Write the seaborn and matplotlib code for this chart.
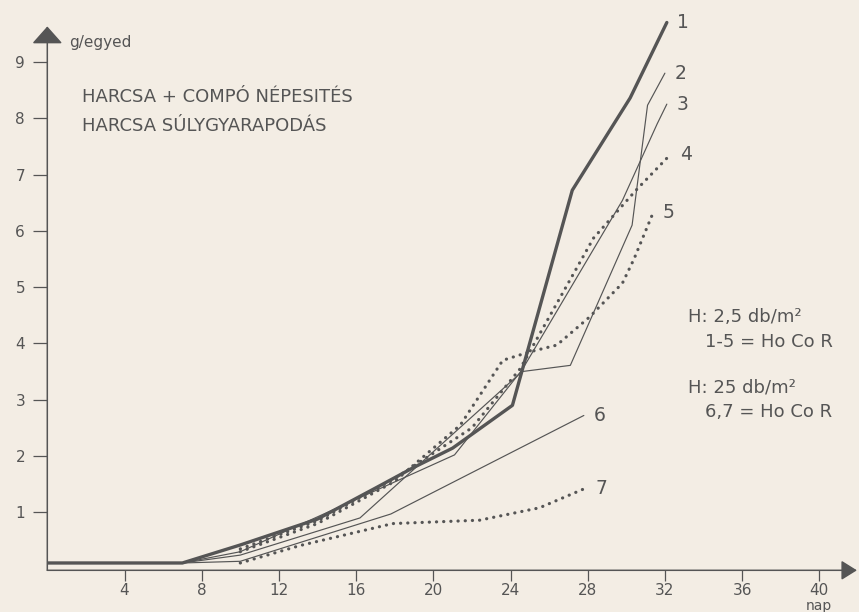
import matplotlib
matplotlib.use("Agg")
import matplotlib.pyplot as plt
import seaborn as sns
import pandas as pd

# ---- data ----
days_1 = [0, 7, 10, 14, 17, 19, 21, 24.1, 27.2, 30.2, 32.1]
vals_1 = [0.1, 0.1, 0.42, 0.88, 1.43, 1.8, 2.14, 2.9, 6.72, 8.36, 9.7]

days_2 = [0, 7, 10, 16.2, 24.6, 27.1, 30.3, 31.1, 32.0]
vals_2 = [0.1, 0.1, 0.24, 0.9, 3.5, 3.61, 6.1, 8.23, 8.8]

days_3 = [0, 7, 10, 21.1, 24.6, 29.8, 31.6, 32.1]
vals_3 = [0.1, 0.1, 0.3, 2.02, 3.53, 6.54, 7.9, 8.25]

days_4 = [10, 14, 18, 22, 24.5, 28.3, 30.5, 32.3]
vals_4 = [0.35, 0.85, 1.6, 2.5, 3.55, 5.87, 6.72, 7.36]

days_5 = [10, 14, 18, 21.4, 23.6, 25, 26.4, 28.1, 29.8, 30.4, 31.4]
vals_5 = [0.3, 0.8, 1.55, 2.55, 3.7, 3.85, 3.97, 4.47, 5.07, 5.5, 6.33]

days_6 = [0, 7, 10, 17.8, 27.8]
vals_6 = [0.1, 0.1, 0.13, 0.97, 2.72]

days_7 = [10, 13.1, 17.9, 22.4, 25.5, 27.9]
vals_7 = [0.1, 0.41, 0.8, 0.86, 1.08, 1.43]

series_names = ["1", "2", "3", "4", "5", "6", "7"]
x_ticks = [4, 8, 12, 16, 20, 24, 28, 32, 36, 40]
y_ticks = [1, 2, 3, 4, 5, 6, 7, 8, 9]
y_label = "g/egyed"
x_label = "nap"
title_lines = ["HARCSA + COMPÓ NÉPESITÉS", "HARCSA SÚLYGYARAPODÁS"]
note_lines = ["H: 2,5 db/m²", "1-5 = Ho Co R", "H: 25 db/m²", "6,7 = Ho Co R"]

all_days = [days_1, days_2, days_3, days_4, days_5, days_6, days_7]
all_vals = [vals_1, vals_2, vals_3, vals_4, vals_5, vals_6, vals_7]

# ---- styling ----
sns.set_theme(style="white")
plt.rcParams["font.family"] = ["DejaVu Sans"]
BG = "#f3ede4"
INK = "#555555"

fig = plt.figure(figsize=(8.59, 6.12), dpi=100)
fig.patch.set_facecolor(BG)

XMIN, XMAX = 0, 42
YMIN, YMAX = -0.03, 10.0
ax = fig.add_axes([47.3 / 859, (612 - 570.3) / 612, 810.6 / 859, (570.3 - 5.6) / 612])
ax.set_facecolor(BG)
ax.set_xlim(XMIN, XMAX)
ax.set_ylim(YMIN, YMAX)

thin = dict(lw=0.85, linestyle="-")
thick = dict(lw=2.4, linestyle="-", solid_capstyle="round")
dots = dict(lw=2.3, linestyle=(0, (0.05, 2.2)), dash_capstyle="round")
styles = [thick, thin, thin, dots, dots, thin, dots]

for name, d, v, st in zip(series_names, all_days, all_vals, styles):
    df = pd.DataFrame({"day": d, "val": v})
    sns.lineplot(data=df, x="day", y="val", ax=ax, color=INK, estimator=None,
                 sort=False, legend=False, **st)
    ax.annotate(name, xy=(d[-1], v[-1]), xytext=(7, 0), textcoords="offset points",
                ha="left", va="center", fontsize=13.5, color=INK)

for s in ax.spines.values():
    s.set_visible(False)

# axes with arrow heads
ax.annotate("", xy=(0, 9.63), xytext=(0, YMIN), xycoords="data",
            arrowprops=dict(arrowstyle="-|>,head_length=0.9,head_width=0.8",
                            color=INK, lw=1.1, shrinkA=0, shrinkB=0),
            annotation_clip=False)
ax.annotate("", xy=(41.95, YMIN), xytext=(0, YMIN), xycoords="data",
            arrowprops=dict(arrowstyle="-|>,head_length=0.8,head_width=0.5",
                            color=INK, lw=1.1, shrinkA=0, shrinkB=0),
            annotation_clip=False)

ax.set_xticks(x_ticks)
ax.set_xticklabels([str(t) for t in x_ticks])
ax.set_yticks(y_ticks)
ax.set_yticklabels([str(t) for t in y_ticks])
ax.tick_params(axis="x", direction="out", length=8, width=0.9, color=INK,
               labelcolor=INK, labelsize=11, pad=1.5, bottom=True)
ax.tick_params(axis="y", direction="out", length=10, width=0.9, color=INK,
               labelcolor=INK, labelsize=11, pad=6, left=True)
ax.set_xlabel("")
ax.set_ylabel("")

ax.annotate(x_label, xy=(40, YMIN), xytext=(0, -26), textcoords="offset points",
            ha="center", va="center", fontsize=10, color=INK, annotation_clip=False)
ax.text(1.15, 9.34, y_label, ha="left", va="center", fontsize=11, color=INK)

ax.text(1.8, 8.38, title_lines[0], ha="left", va="center", fontsize=13, color=INK)
ax.text(1.8, 7.86, title_lines[1], ha="left", va="center", fontsize=13, color=INK)

ax.text(33.2, 4.47, note_lines[0], ha="left", va="center", fontsize=13, color=INK)
ax.text(34.1, 4.02, note_lines[1], ha="left", va="center", fontsize=13, color=INK)
ax.text(33.2, 3.21, note_lines[2], ha="left", va="center", fontsize=13, color=INK)
ax.text(34.1, 2.78, note_lines[3], ha="left", va="center", fontsize=13, color=INK)

fig.savefig("out.png", dpi=100, facecolor=BG)
